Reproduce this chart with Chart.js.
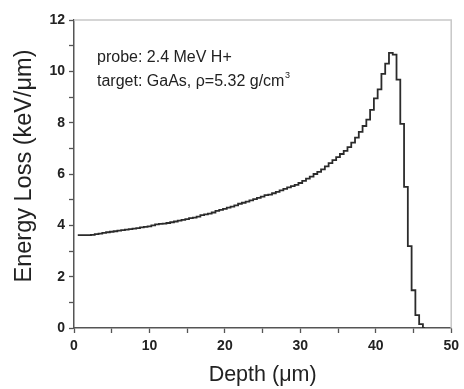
<!DOCTYPE html>
<html>
<head>
<meta charset="utf-8">
<script src="https://cdn.jsdelivr.net/npm/chart.js@4.4.1/dist/chart.umd.min.js"></script>
<style>
  html, body { margin: 0; padding: 0; background: #fff; }
  #wrap { width: 464px; height: 389px; position: relative; }
</style>
</head>
<body>
<div id="wrap"><canvas id="lossChart"></canvas></div>
<script>
// depth bins (um) and energy loss (keV/um)
const depth = [
    0.5, 1, 1.5, 2, 2.5, 3, 3.5, 4, 4.5, 5,
    5.5, 6, 6.5, 7, 7.5, 8, 8.5, 9, 9.5, 10,
    10.5, 11, 11.5, 12, 12.5, 13, 13.5, 14, 14.5, 15,
    15.5, 16, 16.5, 17, 17.5, 18, 18.5, 19, 19.5, 20,
    20.5, 21, 21.5, 22, 22.5, 23, 23.5, 24, 24.5, 25,
    25.5, 26, 26.5, 27, 27.5, 28, 28.5, 29, 29.5, 30,
    30.5, 31, 31.5, 32, 32.5, 33, 33.5, 34, 34.5, 35,
    35.5, 36, 36.5, 37, 37.5, 38, 38.5, 39, 39.5, 40,
    40.5, 41, 41.5, 42, 42.5, 43, 43.5, 44, 44.5, 45,
    45.5, 46, 46.5
];
const energyLoss = [
    3.62, 3.62, 3.62, 3.62, 3.63, 3.66, 3.68, 3.71, 3.73, 3.75,
    3.77, 3.79, 3.81, 3.83, 3.85, 3.87, 3.89, 3.92, 3.94, 3.96,
    4.00, 4.04, 4.06, 4.07, 4.09, 4.12, 4.15, 4.18, 4.21, 4.24,
    4.28, 4.30, 4.34, 4.40, 4.43, 4.46, 4.50, 4.56, 4.60, 4.64,
    4.69, 4.73, 4.78, 4.84, 4.88, 4.92, 4.97, 5.02, 5.07, 5.12,
    5.18, 5.20, 5.25, 5.30, 5.36, 5.42, 5.48, 5.53, 5.58, 5.65,
    5.73, 5.82, 5.90, 6.00, 6.08, 6.18, 6.30, 6.42, 6.54, 6.66,
    6.78, 6.90, 7.05, 7.22, 7.42, 7.64, 7.87, 8.12, 8.50, 8.95,
    9.30, 9.90, 10.30, 10.72, 10.65, 9.68, 7.95, 5.50, 3.19, 1.47,
    0.50, 0.15, 0
];
const xRange = [0, 50];
const yRange = [0, 12];
const yTitle = 'Energy Loss (keV/μm)';
const noteLines = ['probe: 2.4 MeV H+', 'target: GaAs, ρ=5.32 g/cm'];

const axisColor = '#555';
const textColor = '#222';

// light frame on top and right, y title and the note text
const framePlugin = {
    id: 'frame',
    afterDraw(chart) {
        const ctx = chart.ctx;
        const a = chart.chartArea;
        ctx.save();
        ctx.strokeStyle = '#c8c8c8';
        ctx.lineWidth = 1.5;
        ctx.beginPath();
        ctx.moveTo(a.left, a.top);
        ctx.lineTo(a.right, a.top);
        ctx.lineTo(a.right, a.bottom);
        ctx.stroke();

        ctx.fillStyle = textColor;

        // y axis title, a bit above the plot centre as in the original
        ctx.save();
        ctx.translate(25, 166);
        ctx.rotate(-Math.PI / 2);
        ctx.font = '23.5px "Liberation Sans", Arial, sans-serif';
        ctx.textAlign = 'center';
        ctx.textBaseline = 'middle';
        ctx.fillText(yTitle, 0, 0);
        ctx.restore();

        ctx.font = '16px "Liberation Sans", Arial, sans-serif';
        ctx.textBaseline = 'middle';
        const tx = a.left + 23;
        ctx.fillText(noteLines[0], tx, 58);
        ctx.fillText(noteLines[1], tx, 82);
        const w = ctx.measureText(noteLines[1]).width;
        ctx.font = '9px "Liberation Sans", Arial, sans-serif';
        ctx.fillText('3', tx + w + 0.5, 76);
        ctx.restore();
    }
};

document.addEventListener('DOMContentLoaded', function() {
    const points = depth.map((d, i) => ({ x: d, y: energyLoss[i] }));

    new Chart(document.getElementById('lossChart'), {
        type: 'line',
        data: {
            datasets: [{
                data: points,
                stepped: 'middle',
                borderColor: '#2b2b2b',
                borderWidth: 1.8,
                pointRadius: 0,
                fill: false
            }]
        },
        options: {
            responsive: true,
            maintainAspectRatio: false,
            animation: false,
            layout: { padding: { top: 20, right: 8, left: 0, bottom: 0 } },
            plugins: {
                legend: { display: false },
                tooltip: { enabled: false }
            },
            scales: {
                x: {
                    type: 'linear',
                    min: xRange[0],
                    max: xRange[1],
                    afterFit: scale => { scale.height = 61; },
                    ticks: {
                        stepSize: 5,
                        autoSkip: false,
                        maxRotation: 0,
                        padding: 5,
                        color: textColor,
                        font: { family: '"Liberation Sans", Arial', size: 14, weight: 'bold' },
                        callback: v => (v % 10 === 0 ? v : '')
                    },
                    grid: { drawOnChartArea: false, tickLength: 5, tickColor: axisColor, tickWidth: 1.3 },
                    border: { color: axisColor, width: 1.5 },
                    title: {
                        display: true,
                        text: 'Depth (μm)',
                        color: textColor,
                        font: { family: '"Liberation Sans", Arial', size: 21.5 },
                        padding: { top: 0, bottom: 1 }
                    }
                },
                y: {
                    min: yRange[0],
                    max: yRange[1],
                    afterFit: scale => { scale.width = 74; },
                    ticks: {
                        stepSize: 1,
                        autoSkip: false,
                        padding: 4,
                        color: textColor,
                        font: { family: '"Liberation Sans", Arial', size: 14, weight: 'bold' },
                        callback: v => (v % 2 === 0 ? v : '')
                    },
                    grid: { drawOnChartArea: false, tickLength: 5, tickColor: axisColor, tickWidth: 1.3 },
                    border: { color: axisColor, width: 1.5 }
                }
            }
        },
        plugins: [framePlugin]
    });
});
</script>
</body>
</html>
